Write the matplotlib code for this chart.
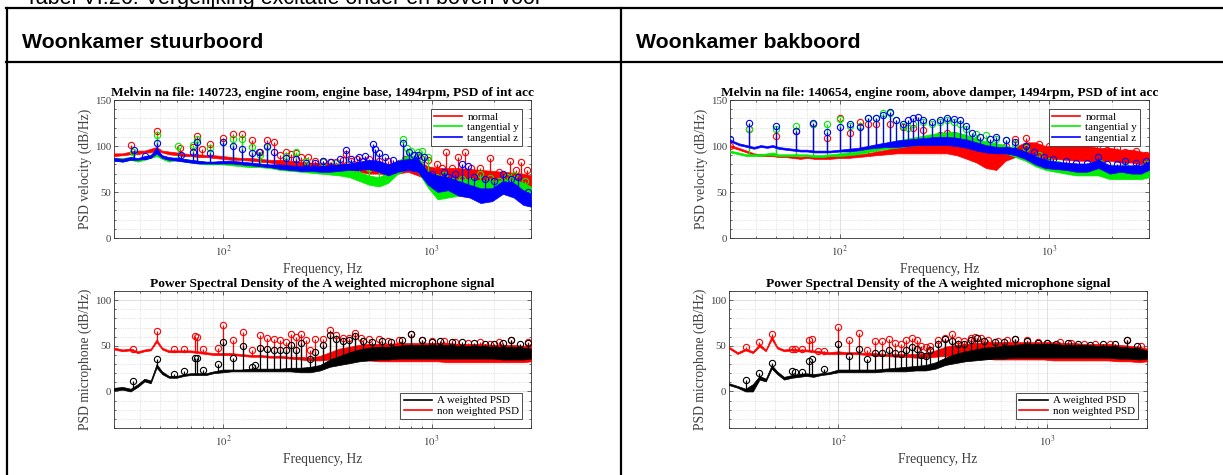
import numpy as np
import matplotlib
matplotlib.use("Agg")
import matplotlib.pyplot as plt
from matplotlib.lines import Line2D
from matplotlib.ticker import MultipleLocator, LogLocator, NullFormatter, FixedLocator

# ---------------- data ----------------
FREQ = [30, 33, 36, 39, 42, 45, 48, 51, 55, 60, 65, 70, 76, 83, 90, 100, 110, 122, 136, 150,
        168, 188, 210, 235, 262, 292, 325, 362, 405, 450, 500, 560, 620, 690, 770, 860, 960,
        1070, 1200, 1350, 1520, 1720, 1950, 2200, 2480, 2750, 3000]

# ---- left top: engine base (normal / tangential y / tangential z), lower & upper envelope
TL_NORMAL_LO = [89, 90, 91, 91, 93, 93, 96, 93, 91, 90, 89, 89, 88, 88, 87, 86, 85, 85, 84, 83,
                82, 80, 79, 77, 76, 75, 74, 74, 73, 72, 70, 70, 69, 70, 72, 68, 63,
                62, 61, 61, 60, 60, 59, 58, 57, 55, 55]
TL_NORMAL_HI = [92, 92, 94, 95, 95, 97, 99, 95, 94, 93, 92, 91, 91, 90, 90, 89, 88, 87, 87, 86,
                85, 85, 84, 83, 82, 82, 81, 81, 80, 80, 79, 80, 80, 82, 85, 84, 78,
                76, 76, 76, 75, 74, 73, 72, 71, 70, 68]
TL_TANY_LO = [84, 83, 85, 83, 85, 87, 89, 86, 83, 85, 83, 82, 81, 80, 80, 80, 79, 78, 77, 77,
              76, 74, 73, 72, 71, 70, 69, 68, 66, 62, 58, 56, 60, 70, 75, 72, 55,
              42, 44, 46, 48, 48, 46, 48, 50, 44, 40]
TL_TANY_HI = [87, 87, 88, 86, 88, 91, 94, 89, 86, 88, 86, 85, 84, 83, 83, 83, 82, 81, 80, 80,
              79, 79, 78, 77, 77, 76, 76, 75, 74, 72, 68, 66, 72, 84, 90, 88, 72,
              62, 62, 64, 64, 63, 62, 63, 64, 60, 56]
TL_TANZ_LO = [84, 83, 85, 85, 86, 87, 92, 87, 85, 84, 83, 82, 81, 81, 81, 81, 81, 80, 79, 78,
              77, 75, 74, 73, 73, 72, 72, 73, 74, 74, 75, 72, 68, 72, 74, 72, 58,
              50, 52, 46, 44, 38, 40, 48, 44, 36, 34]
TL_TANZ_HI = [87, 86, 88, 87, 89, 90, 98, 90, 88, 87, 86, 85, 84, 83, 83, 84, 84, 83, 82, 81,
              80, 80, 79, 78, 78, 78, 79, 80, 81, 83, 85, 84, 80, 84, 86, 86, 72,
              68, 66, 62, 58, 54, 54, 62, 60, 52, 48]
TL_NORMAL_PEAKS = [(36, 101), (48.5, 116), (62, 98), (72, 99), (75, 111), (79, 97), (87, 102),
                   (99.5, 109), (112, 113), (124, 113), (137, 107), (150, 93), (162, 107),
                   (175, 104), (187, 90), (200, 94), (212, 91), (225, 92), (237, 88), (257, 88),
                   (275, 84), (300, 84), (325, 83), (350, 83), (375, 85), (387, 91), (410, 84),
                   (440, 86), (470, 84), (500, 86), (560, 84), (620, 84), (700, 82), (750, 86),
                   (800, 85), (860, 88), (900, 86), (960, 85), (1057, 80), (1120, 76),
                   (1178, 94), (1250, 76), (1339, 88), (1450, 93), (1550, 76), (1700, 76),
                   (1912, 87), (2100, 72), (2376, 84), (2550, 74), (2677, 83), (2880, 74)]
TL_TANY_PEAKS = [(37, 94), (48.5, 112), (61, 100), (72, 101), (75, 108), (87, 98), (99.5, 104),
                 (112, 107.5), (124, 107.5), (137, 99), (150, 90), (162, 99), (200, 89),
                 (223, 94), (250, 84), (300, 83), (350, 81), (400, 80), (450, 78), (500, 76),
                 (560, 78), (733, 108), (760, 98), (800, 95), (860, 93), (900, 95), (960, 88),
                 (1050, 66), (1150, 68), (1250, 62), (1400, 64), (1550, 62), (1700, 70),
                 (1900, 65), (2100, 62), (2300, 66), (2500, 68), (2800, 62)]
TL_TANZ_PEAKS = [(37.5, 95.5), (42.4, 89), (48.5, 103), (63, 90), (72, 93), (74.7, 104.6),
                 (87, 92), (99.5, 104.6), (111.6, 100), (124, 96.6), (137, 92), (149, 93.7),
                 (162, 100), (175, 93), (200, 87), (225, 86), (250, 82), (275, 82), (300, 84),
                 (330, 83), (362, 86), (389, 96), (410, 86), (450, 88), (480, 89), (524, 102),
                 (537, 97), (560, 92), (600, 88), (650, 85), (733, 103.5), (780, 93), (820, 90),
                 (866, 90), (920, 88), (1000, 70), (1070, 64), (1150, 72), (1200, 66),
                 (1300, 70), (1400, 80), (1500, 78), (1600, 66), (1800, 64), (2000, 62),
                 (2200, 70), (2400, 64), (2600, 66), (2900, 50)]

# ---- right top: above damper
TR_NORMAL_LO = [99, 96, 93, 90, 89, 89, 89, 88, 88, 87, 86, 87, 86, 86, 86, 87, 87, 88, 89, 90,
                91, 92, 92, 92, 92, 92, 92, 90, 86, 82, 76, 74, 84, 88, 92, 90, 85,
                86, 85, 84, 84, 82, 84, 82, 82, 80, 82]
TR_NORMAL_HI = [101, 98, 95, 92, 91, 91, 92, 90, 90, 89, 88, 89, 88, 89, 89, 90, 90, 91, 92, 94,
                96, 100, 103, 105, 107, 108, 109, 109, 106, 100, 95, 93, 96, 99, 104, 104, 100,
                100, 100, 100, 100, 98, 98, 96, 96, 94, 92]
TR_TANY_LO = [93, 91, 89, 89, 89, 90, 90, 89, 89, 89, 89, 89, 88, 88, 89, 89, 90, 91, 93, 95,
              97, 98, 100, 101, 102, 103, 103, 102, 100, 97, 95, 94, 92, 88, 84, 78, 74,
              72, 70, 68, 68, 68, 64, 64, 64, 64, 66]
TR_TANY_HI = [95, 93, 91, 91, 91, 92, 93, 91, 91, 91, 91, 91, 90, 90, 91, 92, 93, 94, 97, 99,
              102, 106, 108, 110, 112, 114, 115, 115, 112, 108, 105, 103, 101, 97, 93, 88, 85,
              83, 80, 78, 78, 80, 74, 74, 74, 74, 76]
TR_TANZ_LO = [105, 101, 99, 97, 99, 98, 99, 97, 96, 95, 94, 94, 93, 93, 93, 94, 94, 95, 97, 98,
              99, 99, 100, 101, 101, 101, 101, 100, 98, 95, 93, 92, 92, 90, 86, 80, 76,
              75, 74, 72, 72, 76, 70, 72, 70, 70, 74]
TR_TANZ_HI = [107, 103, 101, 99, 101, 100, 101, 99, 98, 97, 96, 96, 95, 95, 95, 96, 97, 98,
              100, 102, 104, 106, 107, 108, 109, 110, 110, 109, 107, 104, 101, 99, 99, 98,
              94, 89, 85, 83, 82, 81, 81, 85, 79, 79, 79, 79, 83]
TR_NORMAL_PEAKS = [(30, 100), (37, 118), (50, 111), (62, 116), (75, 124), (87, 109), (100, 130),
                   (112, 114), (125, 126), (137, 124), (150, 124), (175, 124), (200, 121),
                   (225, 120), (250, 117), (275, 106), (300, 112), (325, 114), (350, 112),
                   (375, 110), (400, 108), (450, 104), (500, 100), (560, 98), (620, 100),
                   (690, 108), (780, 109), (900, 102), (1000, 100), (1100, 98), (1250, 100),
                   (1400, 97), (1550, 98), (1700, 100), (1900, 96), (2100, 98), (2300, 94),
                   (2600, 95), (2900, 90)]
TR_TANY_PEAKS = [(37, 119), (50, 119), (62, 122), (75, 124), (87, 124), (100, 129), (112, 122),
                 (125, 122), (137, 130), (150, 130), (162, 136), (175, 136), (187, 128),
                 (200, 122), (212, 120), (225, 124), (250, 126), (275, 124), (300, 126),
                 (325, 128), (350, 126), (375, 124), (400, 118), (450, 113), (500, 112),
                 (560, 108), (620, 106), (690, 102), (780, 98), (900, 90), (1000, 84),
                 (1100, 80), (1300, 78), (1500, 76), (1750, 82), (2000, 76), (2300, 78),
                 (2600, 76), (2900, 80)]
TR_TANZ_PEAKS = [(30, 108), (37, 124.6), (50, 121.7), (62, 116), (75, 125), (87, 115.5),
                 (100, 121), (112, 124), (125, 121), (137, 130), (150, 130), (162, 134),
                 (175, 137), (187, 128), (200, 124), (212, 128), (225, 130), (237, 132),
                 (250, 128), (275, 126), (300, 128), (325, 130), (350, 129), (375, 128),
                 (400, 122), (430, 114), (470, 110), (520, 108), (560, 110), (620, 106),
                 (690, 104), (780, 100), (850, 94), (950, 88), (1050, 86), (1200, 84),
                 (1350, 82), (1520, 82), (1720, 88), (1900, 80), (2100, 80), (2300, 84),
                 (2600, 82), (2900, 84)]

# ---- left bottom: microphone (A weighted / non weighted)
BL_AW_LO = [1, 2, 0, 5, 11, 9, 26, 19, 15, 15, 17, 18, 18, 18, 20, 21, 22, 22, 22, 22,
            22, 22, 22, 21, 21, 23, 27, 29, 31, 33, 34, 35, 35, 36, 36, 36, 36,
            36, 36, 36, 36, 36, 36, 35, 35, 35, 36]
BL_AW_HI = [4, 5, 3, 8, 14, 12, 30, 22, 17, 17, 19, 20, 20, 20, 22, 24, 24, 24, 25, 25,
            25, 25, 26, 26, 27, 29, 35, 39, 43, 46, 48, 49, 49, 50, 51, 51, 51,
            51, 51, 50, 50, 50, 49, 49, 49, 48, 47]
BL_NW_LO = [46, 44, 45, 42, 44, 45, 54, 46, 43, 43, 43, 43, 42, 41, 40, 40, 40, 39, 38, 38,
            37, 37, 36, 35, 34, 34, 35, 36, 35, 35, 34, 33, 33, 33, 33, 33, 33,
            33, 32, 32, 32, 32, 32, 32, 32, 32, 33]
BL_NW_HI = [48, 46, 47, 44, 46, 47, 57, 48, 45, 45, 45, 45, 44, 43, 42, 42, 42, 41, 40, 40,
            39, 39, 38, 38, 37, 39, 43, 47, 49, 51, 52, 52, 52, 53, 53, 53, 53,
            53, 53, 52, 52, 52, 51, 51, 51, 50, 49]
BL_AW_PEAKS = [(37, 12), (48, 35.6), (58, 19.3), (65, 22), (73, 37), (75, 37), (80, 24), (95, 30),
               (100, 54), (112, 37), (125, 49.5), (137, 27), (143, 29), (150, 48), (162, 47),
               (175, 45.5), (187, 45.5), (200, 45.5), (212, 51), (225, 45.5), (237, 52.7),
               (262, 36), (275, 43.6), (300, 51), (325, 61.5), (350, 57.5), (375, 55),
               (400, 56), (430, 61), (470, 55), (520, 54), (580, 55), (640, 54), (720, 56),
               (800, 62.5), (900, 56), (1000, 54), (1100, 55), (1250, 54), (1400, 54),
               (1600, 53), (1800, 52), (2000, 52), (2200, 53), (2400, 56), (2650, 52),
               (2900, 53.5)]
BL_NW_PEAKS = [(37, 47), (48, 66), (58, 47), (65, 47), (73, 61), (75, 60), (80, 46), (95, 48),
               (100, 73), (112, 56), (125, 65.5), (137, 45), (150, 62), (162, 59), (175, 57.5),
               (187, 56), (200, 54.5), (212, 63), (225, 60), (237, 63), (250, 56.7), (262, 45),
               (275, 57.5), (300, 57.5), (325, 67), (350, 62), (375, 58), (400, 58), (430, 64),
               (460, 58), (500, 57), (560, 57), (620, 55), (700, 56), (800, 62.5), (900, 56),
               (1000, 55), (1150, 55), (1300, 54), (1500, 53), (1700, 54), (1900, 52),
               (2100, 54), (2400, 56), (2900, 54)]

# ---- right bottom: microphone
BR_AW_LO = [7, 4, 0, 0, 13, 11, 25, 19, 13, 15, 16, 17, 16, 18, 19, 21, 21, 21, 21, 21,
            22, 22, 22, 23, 23, 25, 29, 31, 33, 34, 35, 36, 36, 37, 37, 37, 37,
            37, 37, 37, 37, 37, 37, 36, 36, 35, 36]
BR_AW_HI = [9, 6, 3, 8, 17, 14, 29, 22, 16, 18, 19, 20, 19, 20, 21, 24, 24, 24, 24, 24,
            25, 26, 27, 28, 29, 32, 37, 41, 44, 46, 48, 49, 50, 51, 52, 52, 52,
            52, 51, 51, 51, 50, 50, 49, 48, 47, 45]
BR_NW_LO = [47, 41, 45, 42, 49, 44, 57, 47, 44, 45, 44, 44, 43, 42, 41, 41, 41, 41, 40, 39,
            39, 38, 38, 37, 37, 38, 39, 38, 38, 37, 36, 35, 35, 35, 35, 35, 35,
            34, 34, 34, 34, 34, 34, 33, 33, 32, 33]
BR_NW_HI = [49, 43, 47, 44, 52, 46, 61, 49, 46, 47, 46, 46, 45, 44, 43, 44, 43, 43, 42, 42,
            41, 41, 41, 41, 42, 45, 49, 51, 52, 53, 54, 54, 54, 54, 54, 54, 54,
            54, 53, 53, 52, 52, 52, 51, 50, 49, 47]
BR_AW_PEAKS = [(36, 12.7), (41.8, 20.7), (48.4, 31.6), (60, 22.5), (62, 21), (66.7, 21.5),
               (72.3, 33.8), (75, 35.3), (85, 24.4), (100, 52), (112, 39), (125, 47), (137, 35),
               (150, 41.8), (162, 41.8), (175, 45.5), (187, 42.5), (200, 41), (212, 45.5),
               (225, 48.4), (237, 47), (250, 40), (262, 39), (275, 45.5), (300, 52), (325, 57),
               (350, 55), (375, 52), (400, 52), (430, 56), (460, 58), (500, 55), (560, 54),
               (620, 54), (700, 57), (800, 55), (900, 53), (1000, 53), (1100, 52), (1250, 53),
               (1400, 52), (1600, 51), (1850, 52), (2100, 52), (2400, 56), (2700, 50)]
BR_NW_PEAKS = [(36, 48.4), (41.8, 54), (48.4, 63), (60, 47), (62, 46), (66.7, 46), (72.3, 56.4),
               (75, 57.5), (80, 44), (85, 44), (100, 71), (112, 56.4), (125, 63.6), (137, 45.5),
               (150, 55.6), (162, 55.6), (175, 57), (187, 52.7), (200, 52), (212, 56.4),
               (225, 58), (237, 56.4), (250, 50), (262, 49), (275, 50), (300, 56.4), (325, 58),
               (350, 63), (375, 56), (400, 55), (430, 58), (450, 60), (480, 58), (520, 56),
               (580, 55), (640, 56), (700, 57), (800, 56), (900, 54), (1000, 53), (1150, 54),
               (1300, 53), (1500, 52), (1700, 52), (2000, 52), (2400, 56), (2800, 50)]

# text
CAPTION = "Tabel VI.26: Vergelijking excitatie onder en boven voor"
HEADERS = ["Woonkamer stuurboord", "Woonkamer bakboord"]
TOP_TITLES = ["Melvin na file: 140723, engine room, engine base, 1494rpm, PSD of int acc",
              "Melvin na file: 140654, engine room, above damper, 1494rpm, PSD of int acc"]
BOTTOM_TITLE = "Power Spectral Density of the A weighted microphone signal"
TOP_LEGEND = ["normal", "tangential y", "tangential z"]
BOTTOM_LEGEND = ["A weighted PSD", "non weighted PSD"]
TOP_YTICKS = [0, 50, 100, 150]
BOTTOM_YTICKS = [0, 50, 100]

# ---------------- drawing ----------------
plt.rcParams["font.family"] = ["Liberation Serif", "DejaVu Serif"]
plt.rcParams["mathtext.fontset"] = "stix"

W, H = 1223, 475
fig = plt.figure(figsize=(W / 100, H / 100), dpi=100)
fig.patch.set_facecolor("white")


def px_axes(x0, y0, x1, y1):
    return fig.add_axes([x0 / W, 1 - y1 / H, (x1 - x0) / W, (y1 - y0) / H])


def draw_series(ax, lo, hi, peaks, color, z):
    f = np.array(FREQ, float)
    lo = np.array(lo, float)
    hi = np.array(hi, float)
    ax.fill_between(f, lo, hi, facecolor=color, edgecolor=color, lw=0.5, zorder=z)
    pk = np.array(peaks, float)
    base = np.interp(np.log10(pk[:, 0]), np.log10(f), (lo + hi) / 2)
    ax.vlines(pk[:, 0], base, pk[:, 1], color=color, lw=0.9, zorder=z)
    ax.plot(pk[:, 0], pk[:, 1], "o", mfc="none", mec=color, ms=4.5, mew=0.8, zorder=z + 0.5)


def style(ax, ylim, yticks, ylabel, title):
    ax.set_xscale("log")
    ax.set_xlim(30, 3000)
    ax.set_ylim(*ylim)
    ax.set_yticks(yticks)
    ax.yaxis.set_minor_locator(MultipleLocator(10))
    ax.xaxis.set_major_locator(FixedLocator([100, 1000]))
    ax.set_xticklabels([r"$10^2$", r"$10^3$"])
    ax.xaxis.set_minor_locator(LogLocator(base=10, subs=np.arange(2, 10)))
    ax.xaxis.set_minor_formatter(NullFormatter())
    ax.grid(True, which="major", color="#dcdcdc", lw=0.6)
    ax.grid(True, which="minor", color="#cfcfcf", lw=0.5, ls=(0, (1, 1.5)))
    ax.set_axisbelow(True)
    ax.tick_params(which="both", direction="in", top=True, right=True,
                   colors="#303030", labelcolor="#404040", labelsize=7.8, width=0.5)
    ax.tick_params(which="major", length=3, pad=2)
    ax.tick_params(axis="x", which="major", pad=4.5)
    ax.tick_params(which="minor", length=1.6)
    for s in ax.spines.values():
        s.set_color("#303030")
        s.set_linewidth(0.6)
    ax.set_xlabel("Frequency, Hz", fontsize=9.8, color="#404040", labelpad=2.5)
    ax.set_ylabel(ylabel, fontsize=9.8, color="#404040", labelpad=2)
    ax.set_title(title, fontsize=9.6, fontweight="bold", pad=3)


def legend(ax, colors, labels, loc):
    handles = [Line2D([], [], color=c, lw=1.2) for c in colors]
    lg = ax.legend(handles, labels, loc=loc, fontsize=7.8, frameon=True, fancybox=False,
                   edgecolor="#303030", framealpha=1, borderpad=0.3, labelspacing=0.1,
                   handlelength=2.6, handletextpad=0.5, borderaxespad=0.8)
    lg.get_frame().set_linewidth(0.6)
    lg.set_zorder(20)


RED, GREEN, BLUE, BLACK = "#ff0000", "#00ee00", "#0000ff", "#000000"

top_data = [
    [(TL_NORMAL_LO, TL_NORMAL_HI, TL_NORMAL_PEAKS), (TL_TANY_LO, TL_TANY_HI, TL_TANY_PEAKS),
     (TL_TANZ_LO, TL_TANZ_HI, TL_TANZ_PEAKS)],
    [(TR_NORMAL_LO, TR_NORMAL_HI, TR_NORMAL_PEAKS), (TR_TANY_LO, TR_TANY_HI, TR_TANY_PEAKS),
     (TR_TANZ_LO, TR_TANZ_HI, TR_TANZ_PEAKS)],
]
bottom_data = [
    [(BL_NW_LO, BL_NW_HI, BL_NW_PEAKS), (BL_AW_LO, BL_AW_HI, BL_AW_PEAKS)],
    [(BR_NW_LO, BR_NW_HI, BR_NW_PEAKS), (BR_AW_LO, BR_AW_HI, BR_AW_PEAKS)],
]

top_boxes = [(114, 100, 531, 238), (730, 100, 1149, 238)]
bot_boxes = [(114, 291, 531, 428), (729, 291, 1147, 428)]

for i in range(2):
    ax = px_axes(*top_boxes[i])
    for (lo, hi, pk), c, z in zip(top_data[i], [RED, GREEN, BLUE], [3, 4, 5]):
        draw_series(ax, lo, hi, pk, c, z)
    style(ax, (0, 150), TOP_YTICKS, "PSD velocity (dB/Hz)", TOP_TITLES[i])
    legend(ax, [RED, GREEN, BLUE], TOP_LEGEND, "upper right")

    ax = px_axes(*bot_boxes[i])
    for (lo, hi, pk), c, z in zip(bottom_data[i], [RED, BLACK], [3, 4]):
        draw_series(ax, lo, hi, pk, c, z)
    style(ax, (-40, 110), BOTTOM_YTICKS, "PSD microphone (dB/Hz)", BOTTOM_TITLE)
    legend(ax, [BLACK, RED], BOTTOM_LEGEND, "lower right")

# ---------------- table frame & texts ----------------
def hline(y, x0=7, x1=W):
    fig.add_artist(Line2D([x0 / W, x1 / W], [1 - y / H, 1 - y / H], color="black", lw=1.6,
                          transform=fig.transFigure))


def vline(x, y0=8, y1=H):
    fig.add_artist(Line2D([x / W, x / W], [1 - y0 / H, 1 - y1 / H], color="black", lw=1.6,
                          transform=fig.transFigure))


hline(8, 6)
hline(62, 6)
vline(7)
vline(621)

fig.text(25 / W, 1 - 4 / H, CAPTION, fontsize=15.5, family="Liberation Sans", va="baseline",
         ha="left")
fig.text(22 / W, 1 - 43 / H, HEADERS[0], fontsize=15.3, family="Liberation Sans",
         fontweight="bold", va="center", ha="left")
fig.text(636 / W, 1 - 43 / H, HEADERS[1], fontsize=15.3, family="Liberation Sans",
         fontweight="bold", va="center", ha="left")

fig.savefig("out.png", dpi=100, facecolor="white")
